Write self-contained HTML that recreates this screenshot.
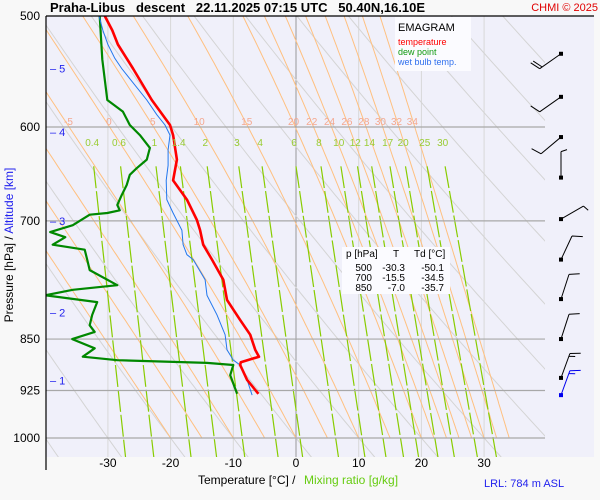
<!DOCTYPE html>
<html><head><meta charset="utf-8"><style>
body{margin:0;background:#f8f8f8;width:600px;height:500px;overflow:hidden}
svg{display:block;font-family:"Liberation Sans",Arial,sans-serif}
</style></head><body>
<svg id="c" width="600" height="500" viewBox="0 0 600 500">
<defs><clipPath id="clp"><rect x="46" y="16" width="499" height="441"/></clipPath></defs>
<rect x="46" y="16" width="548" height="441" fill="#f0f0fa"/>
<g id="bg" clip-path="url(#clp)"></g>
<g id="grid"></g>
<g id="series" clip-path="url(#clp)"></g>
<g id="labels"></g>
<g id="barbs"></g>
<line x1="46" y1="16" x2="594" y2="16" stroke="#000" stroke-width="1.2"/>
<line x1="46" y1="16" x2="46" y2="470" stroke="#000" stroke-width="1.2"/>
<text x="50" y="12" font-size="13" font-weight="bold" xml:space="preserve">Praha-Libus   descent   22.11.2025 07:15 UTC   50.40N,16.10E</text>
<text x="598" y="11" font-size="11" fill="#e00000" text-anchor="end">CHMI © 2025</text>
<g>
<rect x="395" y="17" width="76" height="54" fill="#fbfbff"/>
<text x="398" y="31" font-size="11">EMAGRAM</text>
<text x="398" y="45" font-size="9" fill="#ff0000">temperature</text>
<text x="398" y="55" font-size="9" fill="#119911">dew point</text>
<text x="398" y="65" font-size="9" fill="#3070ee">wet bulb temp.</text>
</g>
<g font-size="10">
<rect x="342" y="247" width="108" height="47" fill="#fbfbff"/>
<text x="346" y="257">p [hPa]</text><text x="393" y="257">T</text><text x="414" y="257">Td [°C]</text>
<text x="372" y="271" text-anchor="end">500</text><text x="405" y="271" text-anchor="end">-30.3</text><text x="444" y="271" text-anchor="end">-50.1</text>
<text x="372" y="281" text-anchor="end">700</text><text x="405" y="281" text-anchor="end">-15.5</text><text x="444" y="281" text-anchor="end">-34.5</text>
<text x="372" y="291" text-anchor="end">850</text><text x="405" y="291" text-anchor="end">-7.0</text><text x="444" y="291" text-anchor="end">-35.7</text>
</g>
<text x="198" y="484" font-size="12">Temperature [°C]  /</text>
<text x="304" y="484" font-size="12" fill="#66cc11">Mixing ratio [g/kg]</text>
<text x="484" y="487" font-size="11" fill="#2222ee">LRL: 784 m ASL</text>
</svg>
<script>
// ---- data ----
const tempP=[500,512,524,545,574,598,608,633,655,676,699,711,728,746,771,797,824,844,865,875,883,887,909,930];
const tempT=[-30.5,-29.3,-28.4,-26.0,-23.0,-20.1,-19.6,-19.0,-19.6,-17.4,-15.8,-15.3,-14.8,-13.4,-11.6,-11.0,-8.9,-7.3,-6.5,-5.9,-8.8,-8.9,-7.8,-6.0];
const dewP=[500,537,574,585,598,608,621,633,642,649,660,671,682,688,691,693,705,713,719,728,734,746,759,778,784,791,800,817,831,840,850,863,875,880,884,887,902,930];
const dewT=[-31.3,-30.9,-30.1,-27.6,-26.5,-24.9,-23.3,-23.8,-25.4,-26.5,-27.0,-27.8,-28.5,-28.1,-30.1,-32.9,-35.6,-39.2,-36.8,-38.8,-33.7,-33.3,-32.9,-28.5,-35.6,-40.0,-31.7,-32.5,-32.9,-32.1,-35.7,-32.1,-34.0,-28.5,-14.2,-10.0,-10.5,-9.4];
const wbP=[500,512,524,536,545,574,588,598,608,623,639,655,676,691,711,728,740,746,771,791,817,844,865,880,887,909,932];
const wbT=[-31.4,-30.8,-30.0,-28.9,-27.8,-23.8,-22.2,-20.9,-20.1,-20.4,-20.4,-20.7,-20.6,-19.6,-18.2,-18.0,-17.4,-16.4,-14.5,-14.2,-12.6,-11.3,-11.0,-10.0,-8.9,-7.8,-7.0];
const isobars=[600,700,850,925,1000];
const pLabels=[500,600,700,850,925,1000];
const tTicks=[-30,-20,-10,0,10,20,30];
const altKm=[5,4,3,2,1];
const altP=[545,605,700,814,910];
const moistThw=[-20,-15,-10,-5,0,5,10,15,20,22,24,26,28,30,32,34];
const moistLbl=[-5,0,5,10,15,20,22,24,26,28,30,32,34];
const mixW=[0.4,0.6,1,1.4,2,3,4,6,8,10,12,14,17,20,25,30];
const windP=[532,571,610,652,698,746,796,850,906];
const windDir=[235,235,230,0,60,25,18,18,20];
const windSpd=[20,10,10,5,5,10,10,10,15];
const windSfcDir=[20], windSfcSpd=[15], windSfcP=[932];

// ---- scales ----
const X=t=>296+6.27*t;
const Y=p=>16+Math.log(p/500)/Math.LN2*422;
const NS='http://www.w3.org/2000/svg';
function mk(tag,attrs,parent){const e=document.createElementNS(NS,tag);for(const k in attrs)e.setAttribute(k,attrs[k]);parent.appendChild(e);return e;}
const bg=document.getElementById('bg'),grid=document.getElementById('grid'),ser=document.getElementById('series'),lab=document.getElementById('labels'),brb=document.getElementById('barbs');
const pts=(P,T)=>P.map((p,i)=>X(T[i]).toFixed(1)+','+Y(p).toFixed(1)).join(' ');

// vertical temperature lines
[-40,-30,-20,-10,0,10,20,30].forEach(t=>{
  const l=mk('line',{x1:X(t),y1:16,x2:X(t),y2:457,stroke:t===0?'#999':'#d8d8d8','stroke-width':1},bg);
  
  
});
// dry adiabats
for(let th=-40;th<=160;th+=10){
  const P=[],T=[];
  for(let p=1050;p>=495;p-=10){P.push(p);T.push((th+273.15)*Math.pow(p/1000,0.2857)-273.15);}
  const l=mk('polyline',{points:pts(P,T),fill:'none',stroke:'#d4d4d4','stroke-width':1},bg);
  
  
}
// moist adiabats
function moist(thw){
  let T=thw+273.15,p=1000;const P=[p],Tc=[thw];
  const f=(T,p)=>{const es=6.112*Math.exp(17.67*(T-273.15)/(T-29.65));const rs=0.622*es/(p-es);
    return (287*T+2.5e6*rs)/(1005+2.5e6*2.5e6*rs*0.622/(287*T*T));};
  while(p>495){const dp=-5;const dl=Math.log((p+dp)/p);
    const k1=f(T,p);const k2=f(T+k1*dl,p+dp);T+=0.5*(k1+k2)*dl;p+=dp;P.push(p);Tc.push(T-273.15);}
  return [P,Tc];
}
const moistCache={};
moistThw.forEach(w=>{
  const [P,T]=moist(w);moistCache[w]=[P,T];
  const l=mk('polyline',{points:pts(P,T),fill:'none',stroke:'#ffc080','stroke-width':1},bg);
  
  
});
moistLbl.forEach(w=>{
  const [P,T]=moistCache[w];const i=P.findIndex(p=>p<=605);
  const t=mk('text',{x:X(T[i])-4,y:Y(600)-2,'font-size':10,fill:'#f4a890','text-anchor':'middle'},lab);
  t.textContent=w;
  
  
});
// mixing ratio lines
const tdW=(w,p)=>{const e=w*p/(622+w);const a=Math.log(e/6.112);return 243.5*a/(17.67-a);};
mixW.forEach(w=>{
  const P=[640,1050],T=P.map(p=>tdW(w,p));
  const l=mk('polyline',{points:pts(P,T),fill:'none',stroke:'#88cc00','stroke-width':1.2,'stroke-dasharray':'22,3'},bg);
  
  
  const t=mk('text',{x:X(tdW(w,625)),y:146,'font-size':10,fill:'#99cc33','text-anchor':'middle'},lab);
  t.textContent=w;
  
  
});
// isobars
isobars.forEach(p=>{
  const l=mk('line',{x1:46,y1:Y(p),x2:545,y2:Y(p),stroke:'#a8a8a8','stroke-width':1.2},grid);
  
  
});
pLabels.forEach(p=>{
  const t=mk('text',{x:40,y:Y(p)+4,'font-size':12,'text-anchor':'end'},lab);t.textContent=p;
  
  
});
tTicks.forEach(v=>{
  const t=mk('text',{x:X(v),y:467,'font-size':12,'text-anchor':'middle'},lab);t.textContent=v;
  
  
});
altKm.forEach((k,i)=>{
  const t=mk('text',{x:50,y:Y(altP[i])+4,'font-size':11,fill:'#2222ee'},lab);t.textContent='– '+k;
  
  
});
const yt=mk('text',{x:0,y:0,'font-size':12,'text-anchor':'middle',transform:'translate(13,245) rotate(-90)'},lab);
yt.innerHTML='Pressure [hPa]  /  <tspan fill="#2222ee">Altitude [km]</tspan>';
yt.setAttribute('xml:space','preserve');


// series
const dl=mk('polyline',{points:pts(dewP,dewT),fill:'none',stroke:'#008800','stroke-width':2.2,'stroke-linejoin':'round'},ser);


const wl=mk('polyline',{points:pts(wbP,wbT),fill:'none',stroke:'#2277ee','stroke-width':1},ser);


const tl=mk('polyline',{points:pts(tempP,tempT),fill:'none',stroke:'#ff0000','stroke-width':2.6,'stroke-linejoin':'round'},ser);


// wind barbs
function barb(p,dir,spd,col){
  const x0=561,y0=Y(p),L=26,a=dir*Math.PI/180;
  const ux=Math.sin(a),uy=-Math.cos(a);
  const x1=x0+ux*L,y1=y0+uy*L;
  let d='M'+x0+','+y0+'L'+x1.toFixed(1)+','+y1.toFixed(1);
  let s=spd,pos=0;
  const px=Math.cos(a),py=Math.sin(a);
  while(s>=10){const bx=x1-ux*pos,by=y1-uy*pos;
    d+='M'+bx.toFixed(1)+','+by.toFixed(1)+'l'+(px*10+ux*4).toFixed(1)+','+(py*10+uy*4).toFixed(1);s-=10;pos+=3;}
  if(s>=5){const bx=x1-ux*pos,by=y1-uy*pos;
    d+='M'+bx.toFixed(1)+','+by.toFixed(1)+'l'+(px*6+ux*2).toFixed(1)+','+(py*6+uy*2).toFixed(1);}
  const g=mk('g',{},brb);
  
  
  mk('path',{d:d,fill:'none',stroke:col,'stroke-width':1},g);
  mk('rect',{x:x0-2,y:y0-2,width:4,height:4,fill:col},g);
}
windP.forEach((p,i)=>barb(p,windDir[i],windSpd[i],'#000'));
windSfcP.forEach((p,i)=>barb(p,windSfcDir[i],windSfcSpd[i],'#0000ee'));
</script>
</body></html>
